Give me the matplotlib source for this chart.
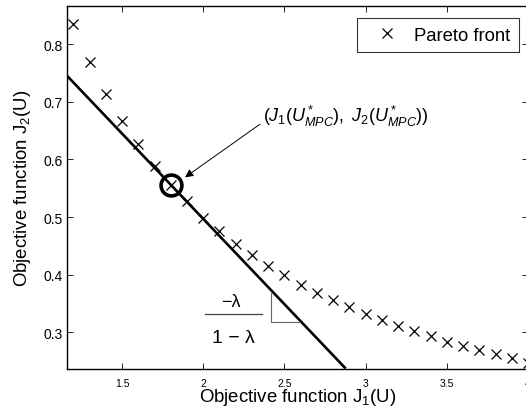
import matplotlib
matplotlib.use("Agg")
import matplotlib.pyplot as plt

plt.rcParams['font.family'] = ['Liberation Sans', 'DejaVu Sans']
plt.rcParams['mathtext.fontset'] = 'custom'
plt.rcParams['mathtext.rm'] = 'Liberation Sans'
plt.rcParams['mathtext.it'] = 'Liberation Sans:italic'

# Pareto front data
pareto_j1 = [1.2, 1.3, 1.4, 1.5, 1.6, 1.7, 1.8, 1.9, 2.0, 2.1, 2.2, 2.3, 2.4, 2.5,
             2.6, 2.7, 2.8, 2.9, 3.0, 3.1, 3.2, 3.3, 3.4, 3.5, 3.6, 3.7, 3.8, 3.9, 4.0]
pareto_j2 = [0.834, 0.769, 0.714, 0.666, 0.626, 0.588, 0.556, 0.528, 0.499, 0.476,
             0.454, 0.434, 0.416, 0.399, 0.383, 0.369, 0.357, 0.344, 0.332, 0.321,
             0.311, 0.302, 0.293, 0.284, 0.276, 0.269, 0.262, 0.255, 0.247]

# Supporting line
line_j1 = [1.158, 2.877]
line_j2 = [0.746, 0.2375]

# MPC optimum
mpc_j1 = [1.8]
mpc_j2 = [0.556]

# slope triangle
tri_j1 = [2.42, 2.42, 2.594]
tri_j2 = [0.368, 0.318, 0.318]

x_ticks = [1.5, 2, 2.5, 3, 3.5, 4]
x_ticklabels = ['1.5', '2', '2.5', '3', '3.5', '4']
y_ticks = [0.3, 0.4, 0.5, 0.6, 0.7, 0.8]
y_ticklabels = ['0.3', '0.4', '0.5', '0.6', '0.7', '0.8']

fig = plt.figure(figsize=(5.26, 4.10), dpi=100)
W, H = 526, 410
ax = fig.add_axes([66.5 / W, (H - 369.5) / H, (528 - 66.5) / W, (369.5 - 7) / H])

ax.plot(line_j1, line_j2, color='black', lw=1.9, solid_capstyle='butt', zorder=2)
ax.plot(tri_j1, tri_j2, color='#666666', lw=0.8, zorder=2)
ax.plot(pareto_j1, pareto_j2, linestyle='none', marker='x', markersize=7.5,
        markeredgewidth=0.9, color='black', label='Pareto front', zorder=3, clip_on=False)
ax.plot(mpc_j1, mpc_j2, linestyle='none', marker='o', markersize=15,
        markerfacecolor='none', markeredgecolor='black', markeredgewidth=2.6, zorder=4)

ax.annotate('', xy=(1.888, 0.569), xytext=(2.349, 0.661),
            arrowprops=dict(arrowstyle='-|>', color='black', lw=0.7,
                            mutation_scale=12, shrinkA=0, shrinkB=0))
ax.text(2.37, 0.677, r'$\mathit{(J_1(U^*_{MPC}),\ J_2(U^*_{MPC}))}$',
        fontsize=13, ha='left', va='center')

# fraction label
ax.text(2.17, 0.354, '\u2212\u03bb', fontsize=13, ha='center', va='center')
ax.plot([2.011, 2.362], [0.3325, 0.3325], color='#444444', lw=0.9)
ax.text(2.183, 0.292, '1 \u2212 \u03bb', fontsize=14, ha='center', va='center')

ax.set_xlim(1.158, 4.0)
ax.set_ylim(0.2375, 0.866)
ax.set_xticks(x_ticks)
ax.set_xticklabels(x_ticklabels)
ax.set_yticks(y_ticks)
ax.set_yticklabels(y_ticklabels)
ax.tick_params(direction='in', top=True, right=True, length=4, width=0.6)
ax.tick_params(axis='x', labelsize=7.5, pad=6.5)
ax.tick_params(axis='y', labelsize=10, pad=2.5)
for s in ax.spines.values():
    s.set_linewidth(1.0)

ax.set_xlabel('Objective function J$_1$(U)', fontsize=13.4, labelpad=-1)
ax.set_ylabel('Objective function J$_2$(U)', fontsize=13.4, labelpad=8)

leg = ax.legend(loc='upper right', bbox_to_anchor=((518.5 - 66.5) / (528 - 66.5), 1 - 12.3 / 362.5),
                fontsize=13.3, frameon=True, fancybox=False, handlelength=2.33,
                handletextpad=0.31, borderpad=0.45, borderaxespad=0)
leg.get_frame().set_edgecolor('black')
leg.get_frame().set_linewidth(0.8)

fig.savefig('out.png', dpi=100)
